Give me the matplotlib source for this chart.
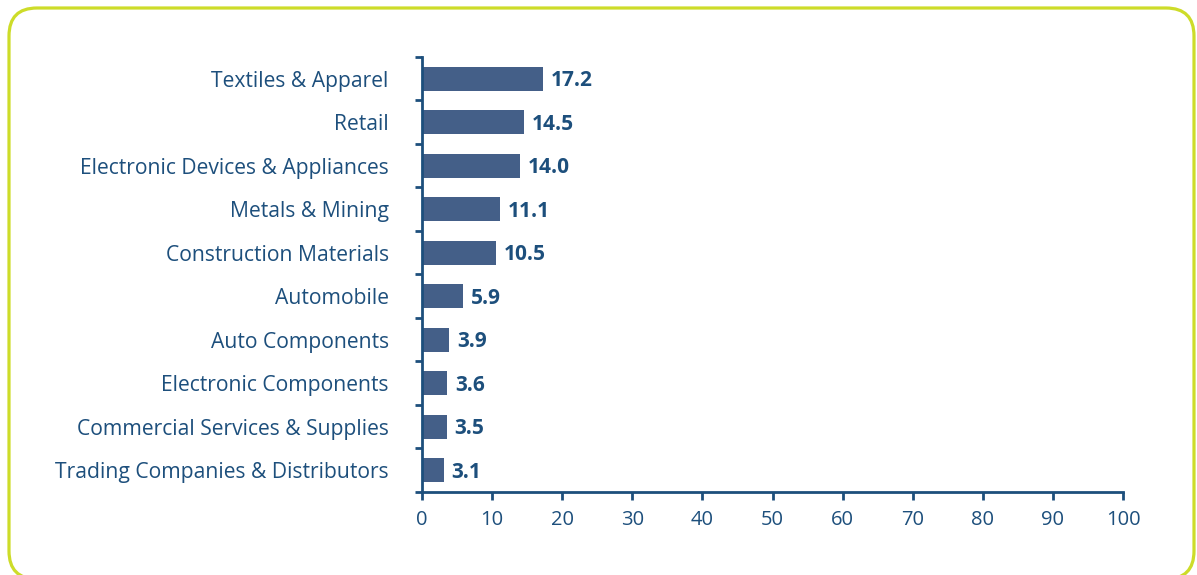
import matplotlib
matplotlib.use("Agg")
import matplotlib.pyplot as plt
from matplotlib.patches import FancyBboxPatch

categories = ["Textiles & Apparel", "Retail", "Electronic Devices & Appliances",
              "Metals & Mining", "Construction Materials", "Automobile",
              "Auto Components", "Electronic Components",
              "Commercial Services & Supplies", "Trading Companies & Distributors"]
values = [17.2, 14.5, 14.0, 11.1, 10.5, 5.9, 3.9, 3.6, 3.5, 3.1]
xticks = [0, 10, 20, 30, 40, 50, 60, 70, 80, 90, 100]

_BAR, _TXT, _BORDER = "#445f88", "#1d4f7c", "#cddc29"

fig = plt.figure(figsize=(11.97, 5.75), dpi=100)
W, H = 1197, 575
# rounded frame around the whole panel (bottom edge just off the picture)
x0, x1, ytop, ybot = 9, 1194, 8, 579
frame = FancyBboxPatch((x0 / W, (H - ybot) / H), (x1 - x0) / W, (ybot - ytop) / H,
                       boxstyle="round,pad=0,rounding_size=%f" % (28 / W),
                       transform=fig.transFigure, fc="none", ec=_BORDER, lw=2.3,
                       mutation_aspect=W / H)
fig.patches.append(frame)

ax = fig.add_axes([422 / W, (575 - 492) / H, (1123 - 422) / W, (492 - 57) / H])
n = len(categories)
ypos = list(range(n))
ax.barh(ypos, values, height=0.55, color=_BAR)
ax.set_ylim(n - 0.5, -0.5)
ax.set_xlim(0, 100)
for y, v in zip(ypos, values):
    ax.text(v + 1.1, y + 0.05, f"{v:.1f}", va="center", ha="left", fontsize=15,
            fontweight="bold", color=_TXT, family="Open Sans")

ax.set_yticks([y - 0.5 for y in ypos] + [n - 0.5])
ax.set_yticklabels([])
ax.set_yticks(ypos, minor=True)
ax.set_yticklabels(categories, minor=True, fontsize=15.2, color=_TXT, family="Open Sans")
ax.tick_params(axis="y", which="minor", length=0, pad=24)
ax.tick_params(axis="y", which="major", length=5, width=2, color=_TXT)
ax.set_xticks(xticks)
ax.set_xticklabels([str(t) for t in xticks], fontsize=14.5, color=_TXT, family="Open Sans")
ax.tick_params(axis="x", length=6, width=2, color=_TXT, pad=7)
for s in ("top", "right"):
    ax.spines[s].set_visible(False)
for s in ("left", "bottom"):
    ax.spines[s].set_color(_TXT)
    ax.spines[s].set_linewidth(2)

fig.savefig("out.png", dpi=100)
